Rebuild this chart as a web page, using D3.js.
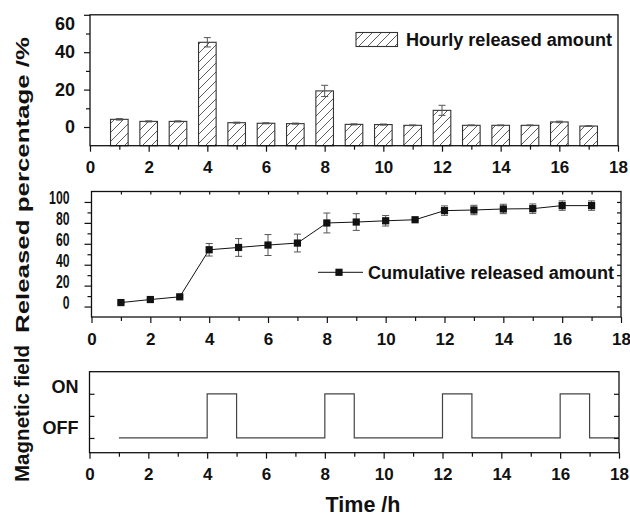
<!DOCTYPE html>
<html>
<head>
<meta charset="utf-8">
<script src="https://cdn.jsdelivr.net/npm/d3@7"></script>
<style>
  body { margin: 0; background: #fff; }
  svg text { font-family: "Liberation Sans", Arial, Helvetica, sans-serif; font-weight: bold; fill: #111; }
</style>
</head>
<body>
<div id="chart"></div>
<script>
// data
const hours = [1, 2, 3, 4, 5, 6, 7, 8, 9, 10, 11, 12, 13, 14, 15, 16, 17];
const hourlyRelease = [4.1, 3.0, 3.0, 45.3, 2.3, 2.0, 1.8, 19.3, 1.4, 1.3, 0.9, 8.9, 0.9, 0.9, 0.9, 2.7, 0.5];
const hourlyErr = [0.4, 0.3, 0.3, 2.5, 0.3, 0.3, 0.3, 3.0, 0.3, 0.3, 0.2, 2.7, 0.2, 0.2, 0.2, 0.4, 0.2];
const cumulativeRelease = [3.8, 6.7, 9.3, 54.3, 56.5, 58.8, 60.7, 79.9, 80.8, 82.0, 83.0, 91.7, 92.3, 93.3, 93.6, 96.5, 96.5];
const cumulativeErr = [1.0, 1.0, 1.0, 6.0, 8.5, 10.0, 8.5, 9.5, 8.0, 5.0, 1.0, 4.5, 4.5, 4.5, 4.5, 4.5, 4.5];
const fieldTimes = [1, 4, 5, 8, 9, 12, 13, 16, 17, 18];
const fieldStates = [0, 1, 0, 1, 0, 1, 0, 1, 0, 0];

const xMajor = [0, 2, 4, 6, 8, 10, 12, 14, 16, 18];
const xMinor = [1, 3, 5, 7, 9, 11, 13, 15, 17];
const xEvery = [1, 2, 3, 4, 5, 6, 7, 8, 9, 10, 11, 12, 13, 14, 15, 16, 17];
const hourlyTicks = [0, 20, 40, 60];
const hourlyMinor = [10, 30, 50];
const cumTicks = [0, 20, 40, 60, 80, 100];
const cumMinor = [10, 30, 50, 70, 90];
const cumRight = [0, 10, 20, 30, 40, 50, 60, 70, 80, 90, 100];
const fieldTicks = [0, 1];
const fieldTickLabels = ['OFF', 'ON'];
const fieldMinor = [0.5];

const W = 630, H = 516;
const svg = d3.select('#chart').append('svg')
    .attr('width', W)
    .attr('height', H);

// hatch pattern for bars
svg.append('defs').append('pattern')
    .attr('id', 'hatch')
    .attr('patternUnits', 'userSpaceOnUse')
    .attr('width', 9)
    .attr('height', 9)
    .append('path')
    .attr('d', 'M0,9 L9,0 M-2,2 L2,-2 M7,11 L11,7')
    .attr('stroke', '#333')
    .attr('stroke-width', 0.8);

function styleAxis(g, fontSize) {
    g.select('.domain').remove();
    g.selectAll('line').attr('stroke', '#111').attr('stroke-width', 1.2);
    g.selectAll('text').attr('fill', '#111').style('font-size', fontSize + 'px');
}

function frame(x, y) {
    svg.append('rect')
        .attr('x', x.range()[0])
        .attr('y', y.range()[1])
        .attr('width', x.range()[1] - x.range()[0])
        .attr('height', y.range()[0] - y.range()[1])
        .attr('fill', 'none')
        .attr('stroke', '#111')
        .attr('stroke-width', 1.3);
}

function xAxes(x, y) {
    const bottom = y.range()[0];
    svg.append('g')
        .attr('transform', `translate(0,${bottom})`)
        .call(d3.axisBottom(x).tickValues(xMajor).tickSize(6).tickPadding(9.5).tickFormat(d3.format('d')))
        .call(g => styleAxis(g, 17));
    svg.append('g')
        .attr('transform', `translate(0,${bottom})`)
        .call(d3.axisBottom(x).tickValues(xMinor).tickSize(4).tickFormat(''))
        .call(g => styleAxis(g, 17));
}

// ---------- top panel: hourly release ----------
const x1 = d3.scaleLinear().domain([0, 18]).range([90, 618]);
const y1 = d3.scaleLinear().domain([-10, 60]).range([145.7, 14.8]);
const barW = x1(0.6) - x1(0);

svg.append('g').selectAll('rect')
    .data(hours)
    .join('rect')
    .attr('x', (d, i) => x1(d) - barW / 2)
    .attr('y', (d, i) => y1(hourlyRelease[i]))
    .attr('width', barW)
    .attr('height', (d, i) => y1(-10) - y1(hourlyRelease[i]))
    .attr('fill', 'url(#hatch)')
    .attr('stroke', '#333')
    .attr('stroke-width', 1.1);

const errTop = svg.append('g').attr('stroke', '#555').attr('stroke-width', 1);
hours.forEach((h, i) => {
    const hi = y1(hourlyRelease[i] + hourlyErr[i]);
    const lo = y1(hourlyRelease[i] - hourlyErr[i]);
    errTop.append('line').attr('x1', x1(h)).attr('x2', x1(h)).attr('y1', hi).attr('y2', lo);
    errTop.append('line').attr('x1', x1(h) - 3.5).attr('x2', x1(h) + 3.5).attr('y1', hi).attr('y2', hi);
    errTop.append('line').attr('x1', x1(h) - 3.5).attr('x2', x1(h) + 3.5).attr('y1', lo).attr('y2', lo);
});

frame(x1, y1);
xAxes(x1, y1);
svg.append('g')
    .attr('transform', `translate(${x1.range()[0]},0)`)
    .call(d3.axisLeft(y1).tickValues(hourlyTicks).tickSize(6).tickPadding(9))
    .call(g => styleAxis(g, 18))
    .call(g => g.selectAll('text').filter(d => d === 60).attr('dy', '0.8em'));
svg.append('g')
    .attr('transform', `translate(${x1.range()[0]},0)`)
    .call(d3.axisLeft(y1).tickValues(hourlyMinor).tickSize(4).tickFormat(''))
    .call(g => styleAxis(g, 18));

// legend (top)
svg.append('rect')
    .attr('x', 356).attr('y', 32.5)
    .attr('width', 41.5).attr('height', 14)
    .attr('fill', 'url(#hatch)')
    .attr('stroke', '#333')
    .attr('stroke-width', 1.1);
svg.append('text')
    .attr('x', 406).attr('y', 46)
    .attr('textLength', 206)
    .attr('lengthAdjust', 'spacingAndGlyphs')
    .style('font-size', '18px')
    .text('Hourly released amount');

// ---------- middle panel: cumulative release ----------
const x2 = d3.scaleLinear().domain([0, 18]).range([91.5, 621]);
const y2 = d3.scaleLinear().domain([-10, 110]).range([317, 191.5]);

frame(x2, y2);
xAxes(x2, y2);
svg.append('g')
    .attr('transform', `translate(0,${y2.range()[1]})`)
    .call(d3.axisTop(x2).tickValues(xEvery).tickSize(-3).tickFormat(''))
    .call(g => styleAxis(g, 16));
svg.append('g')
    .attr('transform', `translate(${x2.range()[1]},0)`)
    .call(d3.axisRight(y2).tickValues(cumRight).tickSize(-4).tickFormat(''))
    .call(g => styleAxis(g, 16));
svg.append('g')
    .attr('transform', `translate(${x2.range()[0]},0)`)
    .call(d3.axisLeft(y2).tickValues(cumTicks).tickSize(7).tickPadding(15))
    .call(g => styleAxis(g, 18.5))
    .call(g => g.selectAll('text')
        .attr('dy', '0.08em')
        .attr('textLength', d => String(d).length * 6.8)
        .attr('lengthAdjust', 'spacingAndGlyphs'));
svg.append('g')
    .attr('transform', `translate(${x2.range()[0]},0)`)
    .call(d3.axisLeft(y2).tickValues(cumMinor).tickSize(4).tickFormat(''))
    .call(g => styleAxis(g, 16));

const errMid = svg.append('g').attr('stroke', '#555').attr('stroke-width', 1);
hours.forEach((h, i) => {
    const hi = y2(cumulativeRelease[i] + cumulativeErr[i]);
    const lo = y2(cumulativeRelease[i] - cumulativeErr[i]);
    errMid.append('line').attr('x1', x2(h)).attr('x2', x2(h)).attr('y1', hi).attr('y2', lo);
    errMid.append('line').attr('x1', x2(h) - 3.5).attr('x2', x2(h) + 3.5).attr('y1', hi).attr('y2', hi);
    errMid.append('line').attr('x1', x2(h) - 3.5).attr('x2', x2(h) + 3.5).attr('y1', lo).attr('y2', lo);
});

svg.append('path')
    .datum(hours)
    .attr('fill', 'none')
    .attr('stroke', '#111')
    .attr('stroke-width', 1)
    .attr('d', d3.line().x(d => x2(d)).y((d, i) => y2(cumulativeRelease[i])));

svg.append('g').selectAll('rect')
    .data(hours)
    .join('rect')
    .attr('x', d => x2(d) - 3.6)
    .attr('y', (d, i) => y2(cumulativeRelease[i]) - 3.6)
    .attr('width', 7.2)
    .attr('height', 7.2)
    .attr('fill', '#111');

// legend (middle)
svg.append('line')
    .attr('x1', 318).attr('x2', 363)
    .attr('y1', 272.3).attr('y2', 272.3)
    .attr('stroke', '#111');
svg.append('rect')
    .attr('x', 339 - 3.6).attr('y', 272.3 - 3.6)
    .attr('width', 7.2).attr('height', 7.2)
    .attr('fill', '#111');
svg.append('text')
    .attr('x', 368).attr('y', 278.5)
    .attr('textLength', 246)
    .attr('lengthAdjust', 'spacingAndGlyphs')
    .style('font-size', '18px')
    .text('Cumulative released amount');

// ---------- bottom panel: magnetic field ----------
const x3 = d3.scaleLinear().domain([0, 18]).range([89.5, 619]);
const y3 = d3.scaleLinear().domain([-1 / 3, 1.5]).range([452.7, 371.7]);

svg.append('path')
    .datum(fieldTimes)
    .attr('fill', 'none')
    .attr('stroke', '#444')
    .attr('stroke-width', 1.2)
    .attr('d', d3.line().curve(d3.curveStepAfter).x(d => x3(d)).y((d, i) => y3(fieldStates[i])));

frame(x3, y3);
xAxes(x3, y3);
svg.append('g')
    .attr('transform', `translate(${x3.range()[0]},0)`)
    .call(d3.axisLeft(y3).tickValues(fieldTicks).tickSize(-5).tickPadding(11)
        .tickFormat(d => fieldTickLabels[d]))
    .call(g => styleAxis(g, 18))
    .call(g => g.selectAll('text').attr('dy', d => d === 1 ? '-0.05em' : '-0.25em'));
svg.append('g')
    .attr('transform', `translate(${x3.range()[0]},0)`)
    .call(d3.axisLeft(y3).tickValues(fieldMinor).tickSize(-5).tickFormat(''))
    .call(g => styleAxis(g, 16));
svg.append('g')
    .attr('transform', `translate(${x3.range()[1]},0)`)
    .call(d3.axisRight(y3).tickValues(fieldTicks.concat(fieldMinor)).tickSize(-5).tickFormat(''))
    .call(g => styleAxis(g, 16));

// ---------- axis titles ----------
svg.append('text')
    .attr('transform', 'translate(29,185) rotate(-90)')
    .attr('text-anchor', 'middle')
    .attr('textLength', 296)
    .attr('lengthAdjust', 'spacingAndGlyphs')
    .style('font-size', '19px')
    .text('Released percentage /%');

svg.append('text')
    .attr('transform', 'translate(29,413.5) rotate(-90)')
    .attr('text-anchor', 'middle')
    .attr('textLength', 137)
    .attr('lengthAdjust', 'spacingAndGlyphs')
    .style('font-size', '20px')
    .text('Magnetic field');

svg.append('text')
    .attr('x', 363).attr('y', 512)
    .attr('text-anchor', 'middle')
    .style('font-size', '21.5px')
    .text('Time /h');
</script>
</body>
</html>
